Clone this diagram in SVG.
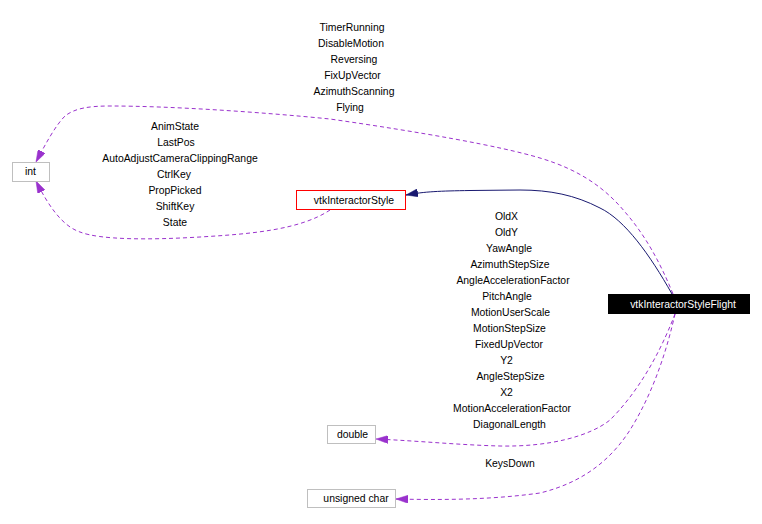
<svg xmlns="http://www.w3.org/2000/svg" width="762" height="524" viewBox="0 0 762 524">
<style>
text{font-family:"Liberation Sans",Arial,sans-serif;font-size:10.4px;fill:#000;text-anchor:middle}
.box{fill:#fff;stroke:#bfbfbf;stroke-width:1}
.dash{fill:none;stroke:#9a32cd;stroke-width:1;stroke-dasharray:4,3}
.solid{fill:none;stroke:#191970;stroke-width:1}
</style>
<defs>
<marker id="ap" viewBox="0 0 12 8" refX="12" refY="4" markerWidth="12" markerHeight="8" markerUnits="userSpaceOnUse" orient="auto">
<path d="M0,0 L12,4 L0,8 z" fill="#9a32cd" stroke="#9a32cd" stroke-width="0.5"/>
</marker>
<marker id="an" viewBox="0 0 12 8" refX="12" refY="4" markerWidth="12" markerHeight="8" markerUnits="userSpaceOnUse" orient="auto">
<path d="M0,0 L12,4 L0,8 z" fill="#191970" stroke="#191970" stroke-width="0.5"/>
</marker>
</defs>
<rect width="762" height="524" fill="#fff"/>
<g id="connectors">
<path class="dash" marker-end="url(#ap)" d="M673,294 C660,262 645,235 625,212 C605,188 580,170 540,158 C500,146 420,132 330,119 C260,112 170,106 110,106 C90,106 75,108 65,116 C55,126 45,145 36,162"/>
<path class="dash" marker-end="url(#ap)" d="M330,210 C300,230 250,234 200,237 C150,240 100,240 80,232 C62,226 48,205 36,181"/>
<path class="solid" marker-end="url(#an)" d="M672,294 C650,255 625,220 600,208 C575,195 550,190 520,190 L470,190.5 C440,191 425,191.5 406,195"/>
<path class="dash" marker-end="url(#ap)" d="M675,314 C665,340 645,385 610,420 C590,436 550,447 500,446 C460,445 420,441 376,439"/>
<path class="dash" marker-end="url(#ap)" d="M675,314 C668,345 655,390 630,430 C612,458 585,482 540,493 C490,500 440,500 396,499"/>
</g>
<g id="labels">
<text x="352" y="30.5">TimerRunning</text>
<text x="351" y="46.5">DisableMotion</text>
<text x="354" y="62.5">Reversing</text>
<text x="352.5" y="78.5">FixUpVector</text>
<text x="354" y="94.5">AzimuthScanning</text>
<text x="350" y="110.5">Flying</text>
<text x="175" y="129.5">AnimState</text>
<text x="176" y="145.5">LastPos</text>
<text x="180" y="161.5">AutoAdjustCameraClippingRange</text>
<text x="174" y="177.5">CtrlKey</text>
<text x="175" y="193.5">PropPicked</text>
<text x="175" y="209.5">ShiftKey</text>
<text x="175" y="225.5">State</text>
<text x="506.5" y="220">OldX</text>
<text x="506.5" y="236">OldY</text>
<text x="509" y="252">YawAngle</text>
<text x="510" y="268">AzimuthStepSize</text>
<text x="513" y="284">AngleAccelerationFactor</text>
<text x="507" y="300">PitchAngle</text>
<text x="510.5" y="316">MotionUserScale</text>
<text x="509.5" y="332">MotionStepSize</text>
<text x="509" y="348">FixedUpVector</text>
<text x="506.5" y="364">Y2</text>
<text x="510.5" y="380">AngleStepSize</text>
<text x="506.5" y="396">X2</text>
<text x="512" y="412">MotionAccelerationFactor</text>
<text x="509.5" y="428">DiagonalLength</text>
<text x="510" y="467">KeysDown</text>
</g>
<g id="node-int">
<rect class="box" x="12.5" y="162.5" width="37" height="19"/>
<text x="30.5" y="175">int</text>
</g>
<g id="node-vtkInteractorStyle">
<rect x="296.5" y="190.5" width="109" height="19" fill="#fff" stroke="#ff0000"/>
<text x="354" y="203.5">vtkInteractorStyle</text>
</g>
<g id="node-vtkInteractorStyleFlight">
<rect x="608" y="294" width="142" height="20" fill="#000"/>
<text x="683" y="307.5" style="fill:#fff">vtkInteractorStyleFlight</text>
</g>
<g id="node-double">
<rect class="box" x="327.5" y="425.5" width="48" height="18"/>
<text x="352.5" y="438">double</text>
</g>
<g id="node-unsigned-char">
<rect class="box" x="307.5" y="489.5" width="88" height="18"/>
<text x="356" y="502">unsigned char</text>
</g>
</svg>
